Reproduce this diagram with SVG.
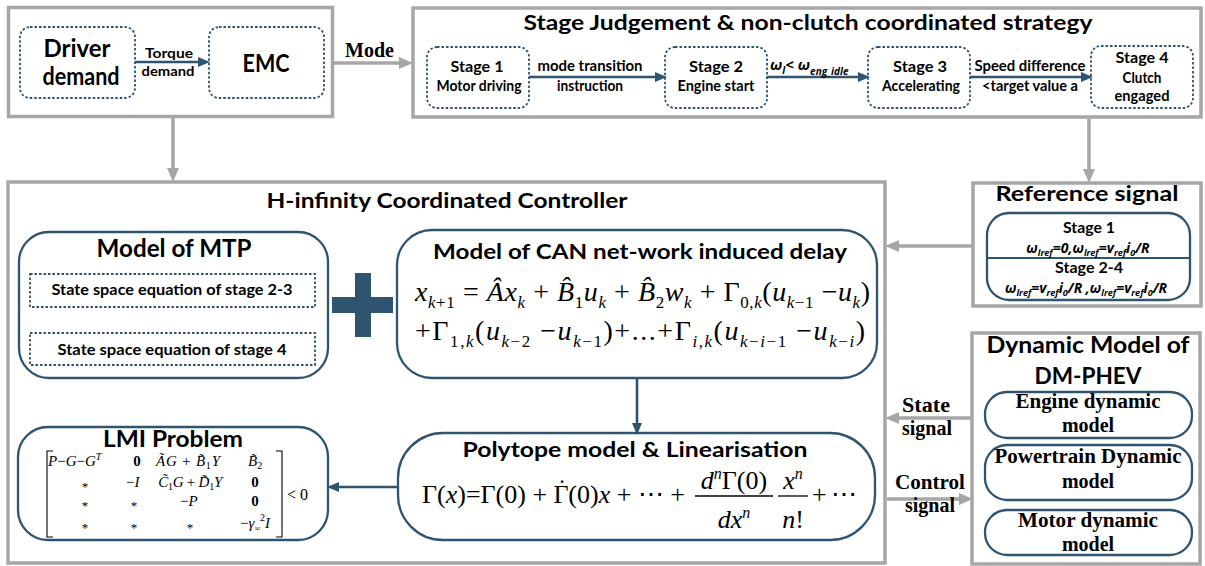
<svg xmlns="http://www.w3.org/2000/svg" width="1205" height="566" viewBox="0 0 1205 566">
<style>
.g{fill:#fff;stroke:#a6a6a6;stroke-width:3.5}
.d{fill:#fff;stroke:#2f5470;stroke-width:1.8;stroke-dasharray:2.5 2}
.r{fill:#fff;stroke:#2f5470;stroke-width:2.3}
.ga{stroke:#a6a6a6;stroke-width:3.5;fill:none}
.ba{stroke:#2f5470;stroke-width:2.6;fill:none}
.s{font-family:Lato,'Open Sans','Liberation Sans',sans-serif;font-weight:bold;fill:#000}
.o{font-family:'Open Sans','Liberation Sans',sans-serif;font-weight:bold;font-style:italic;fill:#000}
.t{font-family:'Liberation Serif','Times New Roman',serif;font-weight:bold;fill:#000}
.m{font-family:'Liberation Serif','Times New Roman',serif;fill:#000}
.i{font-style:italic}
.n{font-style:normal}
.c{text-anchor:middle}
</style>
<defs>
<marker id="gh" markerUnits="userSpaceOnUse" markerWidth="14" markerHeight="12" viewBox="0 0 14 12" refX="2" refY="6" orient="auto"><path d="M0,0 L14,6 L0,12 z" fill="#a6a6a6"/></marker>
<marker id="bh" markerUnits="userSpaceOnUse" markerWidth="12" markerHeight="10" viewBox="0 0 12 10" refX="2" refY="5" orient="auto"><path d="M0,0 L12,5 L0,10 z" fill="#2f5470"/></marker>
</defs>

<g id="driver-emc-group"><rect class="g" x="8.5" y="7.5" width="324" height="109"/></g>
<g id="stage-judgement">
<rect class="g" x="413" y="8" width="788" height="109"/>
<text class="s c" x="808" y="30" font-size="21" textLength="569" lengthAdjust="spacingAndGlyphs">Stage Judgement &amp; non-clutch coordinated strategy</text>
</g>
<g id="h-infinity">
<rect class="g" x="8" y="182" width="877" height="381"/>
<text class="s c" x="447" y="208" font-size="21" textLength="361" lengthAdjust="spacingAndGlyphs">H-infinity Coordinated Controller</text>
</g>
<g id="reference-signal">
<rect class="g" x="973" y="183" width="228" height="123"/>
<text class="s c" x="1087" y="201" font-size="21" textLength="183" lengthAdjust="spacingAndGlyphs">Reference signal</text>
<rect class="r" x="987" y="213" width="203" height="87" rx="22"/>
<line x1="987" y1="258" x2="1190" y2="258" stroke="#2f5470" stroke-width="2"/>
<text class="s c" x="1089" y="233" font-size="15" textLength="52" lengthAdjust="spacingAndGlyphs">Stage 1</text>
<text class="o c" x="1088" y="253" font-size="14">ω<tspan font-size="9" dy="3">lref</tspan><tspan dy="-3">=0,ω</tspan><tspan font-size="9" dy="3">lref</tspan><tspan dy="-3">=v</tspan><tspan font-size="9" dy="3">ref</tspan><tspan dy="-3">i</tspan><tspan font-size="9" dy="3">0</tspan><tspan dy="-3">/R</tspan></text>
<text class="s c" x="1089" y="273" font-size="15" textLength="68" lengthAdjust="spacingAndGlyphs">Stage 2-4</text>
<text class="o c" x="1086" y="293" font-size="14">ω<tspan font-size="9" dy="3">lref</tspan><tspan dy="-3">=v</tspan><tspan font-size="9" dy="3">ref</tspan><tspan dy="-3">i</tspan><tspan font-size="9" dy="3">0</tspan><tspan dy="-3">/R ,ω</tspan><tspan font-size="9" dy="3">lref</tspan><tspan dy="-3">=v</tspan><tspan font-size="9" dy="3">ref</tspan><tspan dy="-3">i</tspan><tspan font-size="9" dy="3">0</tspan><tspan dy="-3">/R</tspan></text>
</g>
<g id="dynamic-model">
<rect class="g" x="972" y="333" width="228" height="231"/>
<text class="s c" x="1088" y="353" font-size="22" textLength="203" lengthAdjust="spacingAndGlyphs">Dynamic Model of</text>
<text class="s c" x="1088" y="384" font-size="22" textLength="107" lengthAdjust="spacingAndGlyphs">DM-PHEV</text>
</g>
<g id="engine-model">
<rect class="r" x="985" y="392" width="207" height="46" rx="22"/>
<text class="t c" x="1088" y="408" font-size="20" textLength="145" lengthAdjust="spacingAndGlyphs">Engine dynamic</text>
<text class="t c" x="1088" y="432" font-size="20">model</text>
</g>
<g id="powertrain-model">
<rect class="r" x="985" y="445" width="207" height="55" rx="22"/>
<text class="t c" x="1088" y="463" font-size="20" textLength="187" lengthAdjust="spacingAndGlyphs">Powertrain Dynamic</text>
<text class="t c" x="1088" y="488" font-size="20">model</text>
</g>
<g id="motor-model">
<rect class="r" x="985" y="510" width="207" height="45" rx="22"/>
<text class="t c" x="1088" y="527" font-size="20" textLength="140" lengthAdjust="spacingAndGlyphs">Motor dynamic</text>
<text class="t c" x="1088" y="551" font-size="20">model</text>
</g>

<g id="driver-demand">
<rect class="d" x="20" y="27" width="115" height="71" rx="10"/>
<text class="s c" x="77" y="57" font-size="24" textLength="67" lengthAdjust="spacingAndGlyphs">Driver</text>
<text class="s c" x="81" y="85" font-size="24" textLength="77" lengthAdjust="spacingAndGlyphs">demand</text>
</g>
<g id="emc">
<rect class="d" x="209" y="27" width="115" height="71" rx="10"/>
<text class="s c" x="266" y="72" font-size="24" textLength="47" lengthAdjust="spacingAndGlyphs">EMC</text>
</g>
<g id="stage1">
<rect class="d" x="427" y="47" width="102" height="61" rx="10"/>
<text class="s c" x="477" y="72" font-size="16" textLength="53" lengthAdjust="spacingAndGlyphs">Stage 1</text>
<text class="s c" x="479" y="91" font-size="14.5" textLength="85" lengthAdjust="spacingAndGlyphs">Motor driving</text>
</g>
<g id="stage2">
<rect class="d" x="665" y="47" width="102" height="61" rx="10"/>
<text class="s c" x="716" y="72" font-size="16" textLength="54" lengthAdjust="spacingAndGlyphs">Stage 2</text>
<text class="s c" x="716" y="91" font-size="14.5" textLength="77" lengthAdjust="spacingAndGlyphs">Engine start</text>
</g>
<g id="stage3">
<rect class="d" x="868" y="47" width="102" height="61" rx="10"/>
<text class="s c" x="920" y="72" font-size="16" textLength="54" lengthAdjust="spacingAndGlyphs">Stage 3</text>
<text class="s c" x="921" y="91" font-size="14.5" textLength="78" lengthAdjust="spacingAndGlyphs">Accelerating</text>
</g>
<g id="stage4">
<rect class="d" x="1091" y="46" width="102" height="62" rx="10"/>
<text class="s c" x="1142" y="63" font-size="16" textLength="53" lengthAdjust="spacingAndGlyphs">Stage 4</text>
<text class="s c" x="1142" y="83" font-size="14.5" textLength="39" lengthAdjust="spacingAndGlyphs">Clutch</text>
<text class="s c" x="1142" y="101" font-size="14.5" textLength="55" lengthAdjust="spacingAndGlyphs">engaged</text>
</g>

<g id="model-mtp">
<rect class="r" x="19" y="232" width="309" height="146" rx="30"/>
<text class="s c" x="174" y="257" font-size="24" textLength="155" lengthAdjust="spacingAndGlyphs">Model of MTP</text>
<rect class="d" x="30" y="274" width="285" height="33"/>
<text class="s c" x="172" y="295" font-size="15" textLength="241" lengthAdjust="spacingAndGlyphs">State space equation of stage 2-3</text>
<rect class="d" x="30" y="333" width="285" height="32"/>
<text class="s c" x="172" y="355" font-size="15" textLength="229" lengthAdjust="spacingAndGlyphs">State space equation of stage 4</text>
</g>
<g id="plus">
<rect x="355" y="273" width="16" height="64" fill="#2f5470"/>
<rect x="332" y="297" width="61" height="16" fill="#2f5470"/>
</g>

<g id="can-delay">
<rect class="r" x="397" y="230" width="480" height="148" rx="35"/>
<text class="s c" x="640" y="259" font-size="21.5" textLength="414" lengthAdjust="spacingAndGlyphs">Model of CAN net-work induced delay</text>
<text class="m" x="415" y="301" font-size="28" textLength="455" lengthAdjust="spacing"><tspan class="i">x</tspan><tspan font-size="17" dy="7"><tspan class="i">k</tspan>+1</tspan><tspan dy="-7"> = </tspan><tspan class="i">Â</tspan><tspan class="i">x</tspan><tspan font-size="17" dy="7" class="i">k</tspan><tspan dy="-7"> + </tspan><tspan class="i">B̂</tspan><tspan font-size="17" dy="7">1</tspan><tspan dy="-7" class="i">u</tspan><tspan font-size="17" dy="7" class="i">k</tspan><tspan dy="-7"> + </tspan><tspan class="i">B̂</tspan><tspan font-size="17" dy="7">2</tspan><tspan dy="-7" class="i">w</tspan><tspan font-size="17" dy="7" class="i">k</tspan><tspan dy="-7"> + Γ</tspan><tspan font-size="17" dy="7">0,<tspan class="i">k</tspan></tspan><tspan dy="-7">(</tspan><tspan class="i">u</tspan><tspan font-size="17" dy="7"><tspan class="i">k</tspan>−1</tspan><tspan dy="-7"> −</tspan><tspan class="i">u</tspan><tspan font-size="17" dy="7" class="i">k</tspan><tspan dy="-7">)</tspan></text>
<text class="m" x="415" y="340" font-size="28" textLength="450" lengthAdjust="spacing">+Γ<tspan font-size="17" dy="7">1,<tspan class="i">k</tspan></tspan><tspan dy="-7">(</tspan><tspan class="i">u</tspan><tspan font-size="17" dy="7"><tspan class="i">k</tspan>−2</tspan><tspan dy="-7"> −</tspan><tspan class="i">u</tspan><tspan font-size="17" dy="7"><tspan class="i">k</tspan>−1</tspan><tspan dy="-7">)+...+Γ</tspan><tspan font-size="17" dy="7"><tspan class="i">i</tspan>,<tspan class="i">k</tspan></tspan><tspan dy="-7">(</tspan><tspan class="i">u</tspan><tspan font-size="17" dy="7"><tspan class="i">k</tspan>−<tspan class="i">i</tspan>−1</tspan><tspan dy="-7"> −</tspan><tspan class="i">u</tspan><tspan font-size="17" dy="7"><tspan class="i">k</tspan>−<tspan class="i">i</tspan></tspan><tspan dy="-7">)</tspan></text>
</g>

<g id="polytope">
<rect class="r" x="398" y="433" width="477" height="107" rx="45"/>
<text class="s c" x="635" y="457" font-size="21.5" textLength="345" lengthAdjust="spacingAndGlyphs">Polytope model &amp; Linearisation</text>
<g class="m" font-size="26">
<text x="422" y="503" textLength="263" lengthAdjust="spacing">Γ(<tspan class="i">x</tspan>)=Γ(0) + Γ<tspan dx="-11" dy="-6">˙</tspan><tspan dx="2" dy="6">(0)</tspan><tspan class="i">x</tspan> + ⋯ +</text>
<text x="734" y="489" class="c"><tspan class="i">d</tspan><tspan font-size="16" dy="-10" class="i">n</tspan><tspan dy="10">Γ(0)</tspan></text>
<line x1="695" y1="496" x2="773" y2="496" stroke="#000" stroke-width="1.3"/>
<text x="734" y="528" class="c"><tspan class="i">dx</tspan><tspan font-size="16" dy="-10" class="i">n</tspan></text>
<text x="793" y="489" class="c"><tspan class="i">x</tspan><tspan font-size="16" dy="-10" class="i">n</tspan></text>
<line x1="778" y1="496" x2="808" y2="496" stroke="#000" stroke-width="1.3"/>
<text x="793" y="528" class="c"><tspan class="i">n</tspan>!</text>
<text x="812" y="503" textLength="45" lengthAdjust="spacing">+ ⋯</text>
</g>
</g>

<g id="lmi">
<rect class="r" x="18" y="427" width="310" height="113" rx="30"/>
<text class="s c" x="173" y="447" font-size="23" textLength="140" lengthAdjust="spacingAndGlyphs">LMI Problem</text>
<path d="M53,451 H47 V537 H53 M276,451 H282 V537 H276" fill="none" stroke="#000" stroke-width="1.1"/>
<g class="m" font-size="15">
<text x="48" y="466" class="i">P<tspan class="n">−</tspan>G<tspan class="n">−</tspan>G<tspan font-size="10" dy="-6">T</tspan></text>
<text x="137" y="466" class="c" font-weight="bold">0</text>
<text x="156" y="466" class="i" textLength="64" lengthAdjust="spacing">ÃG<tspan class="n"> + </tspan>B̃<tspan class="n" font-size="10" dy="3">1</tspan><tspan dy="-3">Y</tspan></text>
<text x="248" y="466" class="i">B̃<tspan class="n" font-size="10" dy="3">2</tspan></text>

<text x="85" y="491" class="c" font-size="13">*</text>
<text x="126" y="487">−<tspan class="i">I</tspan></text>
<text x="158" y="487" class="i" textLength="64" lengthAdjust="spacing">C̃<tspan class="n" font-size="10" dy="3">1</tspan><tspan dy="-3">G</tspan><tspan class="n"> + </tspan>D̃<tspan class="n" font-size="10" dy="3">1</tspan><tspan dy="-3">Y</tspan></text>
<text x="255" y="487" class="c" font-weight="bold">0</text>

<text x="85" y="510" class="c" font-size="13">*</text>
<text x="134" y="510" class="c" font-size="13">*</text>
<text x="180" y="506">−<tspan class="i">P</tspan></text>
<text x="255" y="506" class="c" font-weight="bold">0</text>

<text x="85" y="532" class="c" font-size="13">*</text>
<text x="134" y="532" class="c" font-size="13">*</text>
<text x="190" y="532" class="c" font-size="13">*</text>
<text x="240" y="528">−<tspan class="i">γ</tspan><tspan font-size="8" dy="3">∞</tspan><tspan font-size="10" dy="-10">2</tspan><tspan class="i" dy="7">I</tspan></text>

<text x="287" y="500" font-size="16">&lt; 0</text>
</g>
</g>

<g id="connectors">
<line class="ba" x1="135" y1="62" x2="200" y2="62" marker-end="url(#bh)"/>
<line class="ga" x1="334" y1="63" x2="401" y2="63" marker-end="url(#gh)"/>
<line class="ba" x1="529" y1="77" x2="657" y2="77" marker-end="url(#bh)"/>
<line class="ba" x1="767" y1="77" x2="860" y2="77" marker-end="url(#bh)"/>
<line class="ba" x1="970" y1="77" x2="1083" y2="77" marker-end="url(#bh)"/>
<line class="ga" x1="173" y1="118" x2="173" y2="170" marker-end="url(#gh)"/>
<line class="ga" x1="1089" y1="119" x2="1089" y2="171" marker-end="url(#gh)"/>
<line class="ga" x1="972" y1="246" x2="897" y2="246" marker-end="url(#gh)"/>
<line class="ba" x1="637" y1="378" x2="637" y2="425" marker-end="url(#bh)"/>
<line class="ba" x1="398" y1="487" x2="337" y2="487" marker-end="url(#bh)"/>
<line class="ga" x1="971" y1="418" x2="897" y2="418" marker-end="url(#gh)"/>
<line class="ga" x1="887" y1="499" x2="961" y2="499" marker-end="url(#gh)"/>
<text class="s c" x="169" y="58" font-size="13" textLength="48" lengthAdjust="spacingAndGlyphs">Torque</text>
<text class="s c" x="168" y="76" font-size="13" textLength="53" lengthAdjust="spacingAndGlyphs">demand</text>
<text class="t" x="345" y="57" font-size="20">Mode</text>
<text class="s c" x="590" y="71" font-size="14.5" textLength="105" lengthAdjust="spacingAndGlyphs">mode transition</text>
<text class="s c" x="590" y="91" font-size="14.5" textLength="66" lengthAdjust="spacingAndGlyphs">instruction</text>
<text class="o" x="770" y="70" font-size="15">ω<tspan font-size="10" dy="4">l</tspan><tspan dy="-4">&lt; ω</tspan><tspan font-size="10" dy="5">eng_idle</tspan></text>
<text class="s c" x="1030" y="71" font-size="14.5" textLength="111" lengthAdjust="spacingAndGlyphs">Speed difference</text>
<text class="s c" x="1030" y="91" font-size="14.5" textLength="96" lengthAdjust="spacingAndGlyphs">&lt;target value a</text>
<text class="t c" x="926" y="412" font-size="20" textLength="48" lengthAdjust="spacingAndGlyphs">State</text>
<text class="t c" x="927" y="435" font-size="20" textLength="50" lengthAdjust="spacingAndGlyphs">signal</text>
<text class="t c" x="930" y="489" font-size="20" textLength="70" lengthAdjust="spacingAndGlyphs">Control</text>
<text class="t c" x="930" y="512" font-size="20" textLength="50" lengthAdjust="spacingAndGlyphs">signal</text>
</g>
</svg>
